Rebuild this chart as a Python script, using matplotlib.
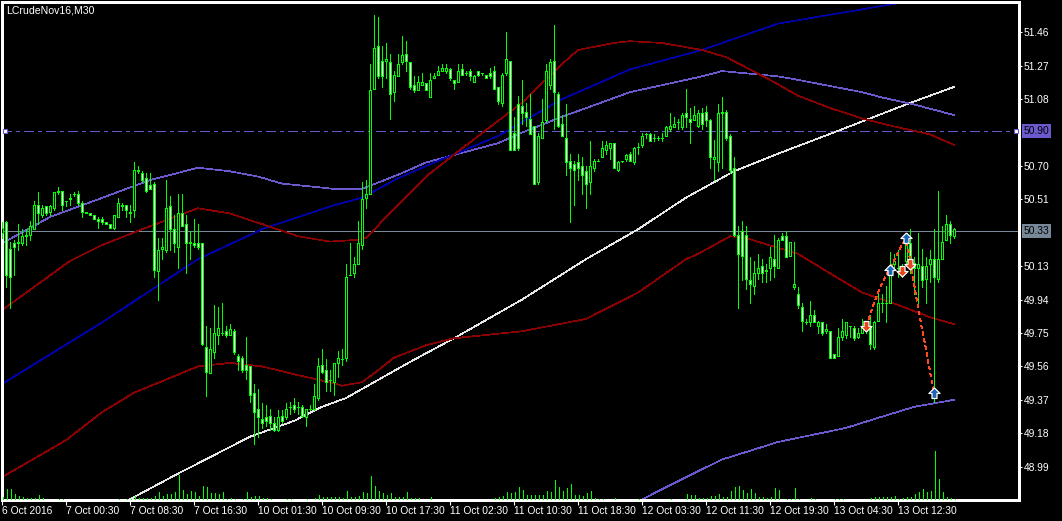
import numpy as np
import matplotlib
matplotlib.use("Agg")
import matplotlib.pyplot as plt
import matplotlib.transforms as mtransforms

# ---- LCrudeNov16, M30 : bars (one entry per 30 min bar) ----
opens = [
    50.32, 50.38, 50.23, 50.26, 50.26, 50.26, 50.31, 50.31, 50.34, 50.48,
    50.42, 50.47, 50.44, 50.46, 50.56, 50.56, 50.50, 50.52, 50.54, 50.54,
    50.49, 50.44, 50.43, 50.42, 50.40, 50.40, 50.38, 50.37, 50.35, 50.41,
    50.48, 50.48, 50.44, 50.45, 50.68, 50.66, 50.63, 50.59, 50.60, 50.10,
    50.23, 50.22, 50.47, 50.34, 50.24, 50.43, 50.37, 50.27, 50.26, 50.26,
    50.26, 49.67, 49.52, 49.64, 49.74, 49.75, 49.76, 49.74, 49.76, 49.62,
    49.61, 49.57, 49.56, 49.41, 49.32, 49.26, 49.27, 49.28, 49.24, 49.20,
    49.28, 49.27, 49.33, 49.34, 49.33, 49.33, 49.27, 49.32, 49.32, 49.38,
    49.57, 49.54, 49.48, 49.47, 49.58, 49.60, 49.61, 50.08, 50.09, 50.14,
    50.25, 50.52, 50.54, 51.14, 51.38, 51.30, 51.30, 51.29, 51.12, 51.21,
    51.29, 51.34, 51.29, 51.16, 51.13, 51.16, 51.17, 51.09, 51.20, 51.22,
    51.24, 51.24, 51.25, 51.19, 51.18, 51.25, 51.23, 51.24, 51.18, 51.24,
    51.23, 51.22, 51.23, 51.24, 51.15, 51.06, 51.23, 51.30, 50.89, 51.05,
    51.04, 51.01, 50.97, 50.93, 50.61, 50.86, 50.96, 51.16, 51.30, 51.11,
    50.94, 50.86, 50.73, 50.71, 50.72, 50.70, 50.67, 50.61, 50.69, 50.73,
    50.75, 50.79, 50.80, 50.83, 50.68, 50.73, 50.74, 50.77, 50.72, 50.81,
    50.82, 50.88, 50.88, 50.86, 50.86, 50.86, 50.87, 50.91, 50.92, 50.95,
    50.92, 51.00, 50.97, 50.96, 50.93, 51.00, 51.01, 50.96, 50.74, 50.72,
    51.01, 51.01, 50.87, 50.69, 50.31, 50.33, 50.31, 50.05, 50.02, 50.09,
    50.13, 50.10, 50.12, 50.17, 50.12, 50.30, 50.30, 50.19, 50.01, 49.97,
    49.90, 49.81, 49.81, 49.85, 49.79, 49.81, 49.76, 49.76, 49.63, 49.62,
    49.73, 49.74, 49.79, 49.78, 49.73, 49.75, 49.77, 49.79, 49.67, 49.82,
    49.92, 49.92, 49.92, 50.14, 50.12, 50.12, 50.16, 50.26, 50.15, 50.12,
    50.13, 50.06, 50.14, 50.17, 50.06, 50.17, 50.28, 50.37, 50.30,
]
highs = [
    50.38, 50.39, 50.27, 50.28, 50.37, 50.34, 50.34, 50.39, 50.50, 50.55,
    50.48, 50.47, 50.48, 50.55, 50.58, 50.56, 50.50, 50.54, 50.55, 50.56,
    50.50, 50.44, 50.43, 50.42, 50.41, 50.41, 50.38, 50.37, 50.42, 50.52,
    50.49, 50.48, 50.48, 50.72, 50.70, 50.67, 50.66, 50.66, 50.61, 50.29,
    50.29, 50.62, 50.53, 50.42, 50.54, 50.54, 50.42, 50.33, 50.40, 50.37,
    50.26, 49.79, 49.78, 49.91, 49.90, 49.92, 49.79, 49.80, 49.77, 49.63,
    49.62, 49.73, 49.56, 49.46, 49.43, 49.35, 49.34, 49.32, 49.27, 49.31,
    49.31, 49.35, 49.36, 49.38, 49.36, 49.34, 49.32, 49.34, 49.46, 49.61,
    49.66, 49.60, 49.54, 49.58, 49.65, 49.66, 50.14, 50.26, 50.18, 50.39,
    50.61, 50.62, 51.28, 51.56, 51.55, 51.38, 51.40, 51.34, 51.24, 51.34,
    51.44, 51.41, 51.29, 51.21, 51.21, 51.23, 51.17, 51.23, 51.23, 51.27,
    51.28, 51.28, 51.26, 51.19, 51.28, 51.28, 51.24, 51.25, 51.22, 51.24,
    51.23, 51.22, 51.26, 51.27, 51.15, 51.23, 51.46, 51.30, 50.98, 51.10,
    51.19, 51.06, 51.11, 50.93, 50.89, 51.08, 51.28, 51.31, 51.50, 51.12,
    50.99, 51.05, 50.77, 50.73, 50.77, 50.75, 50.70, 50.84, 50.74, 50.74,
    50.84, 50.84, 50.83, 50.83, 50.73, 50.73, 50.77, 50.78, 50.81, 50.83,
    50.89, 50.89, 50.89, 50.88, 50.87, 50.89, 50.93, 51.00, 50.98, 50.97,
    51.00, 51.14, 51.03, 51.04, 51.02, 51.03, 51.04, 50.97, 50.85, 51.05,
    51.09, 51.02, 50.88, 50.75, 50.36, 50.39, 50.36, 50.18, 50.16, 50.20,
    50.17, 50.14, 50.24, 50.31, 50.29, 50.32, 50.33, 50.27, 50.27, 50.01,
    49.92, 49.83, 49.93, 49.88, 49.82, 49.81, 49.80, 49.76, 49.63, 49.78,
    49.83, 49.81, 49.79, 49.79, 49.78, 49.83, 49.82, 49.85, 49.82, 49.97,
    49.97, 50.02, 50.21, 50.20, 50.22, 50.14, 50.29, 50.34, 50.18, 50.32,
    50.23, 50.18, 50.22, 50.34, 50.56, 50.36, 50.42, 50.39, 50.35,
]
lows = [
    50.29, 50.01, 49.89, 50.08, 50.22, 50.25, 50.25, 50.28, 50.34, 50.37,
    50.41, 50.42, 50.42, 50.45, 50.54, 50.45, 50.47, 50.48, 50.53, 50.48,
    50.41, 50.43, 50.42, 50.40, 50.35, 50.37, 50.37, 50.35, 50.34, 50.41,
    50.45, 50.41, 50.38, 50.41, 50.66, 50.61, 50.55, 50.57, 50.07, 49.94,
    50.17, 50.21, 50.22, 50.21, 50.12, 50.36, 50.09, 50.17, 50.24, 50.23,
    49.68, 49.39, 49.52, 49.61, 49.69, 49.74, 49.73, 49.74, 49.63, 49.54,
    49.53, 49.49, 49.36, 49.12, 49.16, 49.21, 49.22, 49.20, 49.19, 49.19,
    49.24, 49.26, 49.29, 49.30, 49.29, 49.27, 49.22, 49.31, 49.31, 49.37,
    49.52, 49.42, 49.42, 49.40, 49.50, 49.57, 49.59, 50.08, 50.07, 50.14,
    50.23, 50.46, 50.54, 51.14, 51.20, 51.15, 51.20, 50.97, 51.07, 51.21,
    51.28, 51.24, 51.14, 51.12, 51.13, 51.16, 51.13, 51.09, 51.20, 51.22,
    51.24, 51.23, 51.19, 51.14, 51.18, 51.22, 51.22, 51.19, 51.18, 51.21,
    51.22, 51.20, 51.20, 51.14, 51.05, 51.04, 51.22, 50.79, 50.79, 50.79,
    50.94, 50.93, 50.88, 50.60, 50.60, 50.86, 50.95, 51.14, 50.91, 50.92,
    50.87, 50.65, 50.38, 50.48, 50.62, 50.54, 50.46, 50.54, 50.67, 50.73,
    50.75, 50.77, 50.74, 50.69, 50.67, 50.72, 50.73, 50.73, 50.71, 50.77,
    50.81, 50.86, 50.84, 50.84, 50.85, 50.84, 50.87, 50.90, 50.92, 50.91,
    50.91, 50.92, 50.83, 50.96, 50.92, 50.91, 50.93, 50.69, 50.62, 50.67,
    50.69, 50.85, 50.66, 50.30, 49.89, 50.05, 50.00, 49.92, 49.97, 50.06,
    50.04, 50.04, 50.05, 50.07, 50.12, 50.28, 50.18, 50.19, 50.00, 49.89,
    49.76, 49.80, 49.79, 49.81, 49.75, 49.74, 49.75, 49.61, 49.61, 49.62,
    49.71, 49.72, 49.73, 49.71, 49.72, 49.75, 49.75, 49.66, 49.66, 49.82,
    49.87, 49.81, 49.92, 50.11, 50.07, 50.07, 50.14, 50.09, 49.97, 49.92,
    50.01, 49.92, 50.04, 49.36, 50.04, 50.17, 50.28, 50.26, 50.29,
]
closes = [
    50.35, 50.08, 50.07, 50.24, 50.27, 50.30, 50.30, 50.36, 50.48, 50.43,
    50.46, 50.43, 50.47, 50.55, 50.55, 50.48, 50.50, 50.51, 50.54, 50.49,
    50.44, 50.43, 50.42, 50.40, 50.39, 50.38, 50.37, 50.35, 50.42, 50.49,
    50.47, 50.45, 50.43, 50.68, 50.67, 50.62, 50.56, 50.57, 50.11, 50.22,
    50.24, 50.46, 50.34, 50.26, 50.43, 50.36, 50.26, 50.26, 50.25, 50.24,
    49.69, 49.53, 49.66, 49.75, 49.78, 49.75, 49.74, 49.77, 49.64, 49.59,
    49.54, 49.54, 49.40, 49.30, 49.27, 49.24, 49.25, 49.24, 49.20, 49.27,
    49.25, 49.32, 49.33, 49.32, 49.33, 49.28, 49.32, 49.32, 49.39, 49.56,
    49.53, 49.47, 49.48, 49.58, 49.61, 49.60, 50.07, 50.08, 50.14, 50.26,
    50.51, 50.54, 51.13, 51.37, 51.21, 51.21, 51.31, 51.11, 51.22, 51.28,
    51.33, 51.30, 51.15, 51.13, 51.18, 51.18, 51.13, 51.19, 51.21, 51.24,
    51.26, 51.26, 51.20, 51.17, 51.24, 51.22, 51.23, 51.21, 51.21, 51.22,
    51.23, 51.20, 51.21, 51.14, 51.07, 51.22, 51.31, 50.79, 50.79, 50.80,
    51.00, 50.98, 50.88, 50.60, 50.87, 50.95, 51.24, 51.29, 51.12, 50.93,
    50.87, 50.72, 50.69, 50.68, 50.69, 50.65, 50.60, 50.70, 50.73, 50.73,
    50.80, 50.82, 50.83, 50.69, 50.72, 50.73, 50.76, 50.73, 50.80, 50.81,
    50.87, 50.88, 50.84, 50.86, 50.86, 50.86, 50.92, 50.93, 50.94, 50.95,
    50.99, 50.98, 50.95, 50.99, 51.00, 50.94, 50.96, 50.75, 50.75, 51.00,
    51.00, 50.86, 50.68, 50.31, 50.20, 50.19, 50.06, 50.03, 50.09, 50.12,
    50.09, 50.11, 50.18, 50.13, 50.28, 50.28, 50.18, 50.27, 50.03, 49.91,
    49.82, 49.81, 49.85, 49.81, 49.81, 49.75, 49.77, 49.61, 49.61, 49.73,
    49.76, 49.81, 49.79, 49.72, 49.75, 49.79, 49.80, 49.69, 49.81, 49.92,
    49.92, 49.92, 50.10, 50.16, 50.12, 50.12, 50.26, 50.15, 50.12, 50.14,
    50.05, 50.13, 50.17, 50.07, 50.17, 50.27, 50.37, 50.31, 50.34,
]
# tick volume (drawn in its own scale at the bottom of the window)
volumes = [
    3, 11, 11, 6, 4, 3, 2, 2, 2, 5,
    2, 0, 0, 0, 1, 1, 0, 0, 0, 0,
    0, 0, 0, 0, 0, 0, 0, 0, 0, 1,
    0, 1, 1, 4, 2, 2, 2, 2, 4, 8,
    4, 6, 6, 8, 25, 10, 6, 9, 8, 4,
    14, 13, 7, 7, 6, 8, 1, 2, 1, 0,
    1, 8, 3, 4, 4, 2, 2, 1, 0, 0,
    0, 1, 1, 0, 0, 0, 1, 0, 2, 5,
    3, 3, 3, 3, 3, 2, 9, 3, 3, 4,
    8, 7, 24, 14, 9, 7, 5, 7, 3, 3,
    3, 8, 2, 2, 2, 0, 0, 3, 0, 0,
    0, 0, 0, 0, 0, 0, 0, 0, 0, 0,
    0, 0, 0, 2, 3, 4, 8, 7, 8, 13,
    10, 5, 5, 5, 5, 5, 9, 8, 20, 13,
    9, 12, 16, 5, 5, 4, 7, 9, 2, 1,
    1, 0, 0, 2, 0, 0, 0, 0, 0, 1,
    0, 0, 0, 0, 0, 0, 0, 1, 0, 0,
    0, 6, 5, 5, 2, 2, 2, 4, 4, 6,
    3, 3, 9, 13, 14, 10, 7, 11, 7, 3,
    3, 2, 3, 12, 10, 0, 1, 1, 12, 1,
    0, 0, 2, 1, 0, 0, 0, 0, 1, 1,
    1, 0, 0, 0, 0, 0, 0, 2, 3, 3,
    3, 3, 3, 4, 1, 2, 3, 3, 6, 8,
    11, 8, 9, 49, 21, 8, 3, 2, 1,
]

# ---- indicator lines (bar index, price) ----
white_idx = [30, 44, 56, 62, 73, 80, 86, 93, 100, 104, 113, 130, 146, 159, 171, 183, 194, 209, 226, 238]
white_val = [48.78, 48.95, 49.09, 49.16, 49.25, 49.33, 49.38, 49.47, 49.56, 49.61, 49.72, 49.94,
             50.17, 50.34, 50.52, 50.67, 50.77, 50.90, 51.05, 51.15]

slate_up_idx = [0, 12, 24, 37, 49, 57, 64, 70, 83, 90, 99, 106, 124, 130, 140, 157, 175, 180,
                194, 199, 215, 220, 228, 238]
slate_up_val = [50.26, 50.41, 50.51, 50.62, 50.69, 50.67, 50.64, 50.60, 50.57, 50.57, 50.65, 50.72,
                50.83, 50.89, 50.98, 51.12, 51.21, 51.24, 51.21, 51.19, 51.12, 51.09, 51.05, 50.99]
slate_lo_idx = [158, 171, 180, 194, 211, 218, 228, 238]
slate_lo_val = [48.78, 48.93, 49.03, 49.13, 49.21, 49.26, 49.33, 49.37]

navy_idx = [0, 25, 49, 65, 82, 90, 99, 106, 124, 130, 140, 157, 175, 194, 225, 240]
navy_val = [49.46, 49.81, 50.17, 50.34, 50.47, 50.52, 50.63, 50.70, 50.87, 50.95, 51.08, 51.25,
            51.36, 51.51, 51.63, 51.68]

red_up_idx = [0, 17, 25, 35, 49, 57, 65, 74, 82, 89, 91, 99, 106, 115, 130, 140, 144, 153, 157,
              165, 175, 181, 192, 199, 207, 215, 224, 232, 238]
red_up_val = [49.88, 50.16, 50.25, 50.34, 50.46, 50.43, 50.37, 50.30, 50.27, 50.28, 50.29, 50.48,
              50.64, 50.80, 51.06, 51.28, 51.36, 51.40, 51.41, 51.40, 51.36, 51.32, 51.19, 51.10,
              51.03, 50.97, 50.92, 50.88, 50.82]
red_lo_idx = [0, 16, 25, 33, 49, 57, 65, 74, 82, 85, 90, 93, 98, 106, 113, 130, 146, 159, 171,
              174, 182, 186, 199, 207, 215, 224, 232, 238]
red_lo_val = [48.93, 49.14, 49.30, 49.41, 49.56, 49.58, 49.56, 49.51, 49.47, 49.45, 49.47, 49.52,
              49.61, 49.68, 49.72, 49.76, 49.83, 49.98, 50.17, 50.20, 50.30, 50.29, 50.20, 50.09,
              49.98, 49.91, 49.84, 49.80]

dotted_idx = [216, 217, 218, 219, 220, 221, 222, 223, 224, 225, 226, 227, 228, 229, 230, 231, 232, 233]
dotted_val = [49.79, 49.85, 49.92, 49.98, 50.03, 50.08, 50.12, 50.16, 50.21, 50.25, 50.28, 50.17,
              50.03, 49.90, 49.77, 49.66, 49.53, 49.41]

buy_idx = [222, 226, 233]
buy_val = [50.11, 50.29, 49.41]
sell_idx = [216, 225, 227]
sell_val = [49.79, 50.10, 50.14]

level_line = 50.90
bid_line = 50.33

price_ticks = [51.46, 51.27, 51.08, 50.70, 50.51, 50.13, 49.94, 49.75, 49.56, 49.37, 49.18, 48.99]
time_tick_idx = list(range(0, 225, 16))
time_tick_labels = ["6 Oct 2016", "7 Oct 00:30", "7 Oct 08:30", "7 Oct 16:30", "10 Oct 01:30",
                    "10 Oct 09:30", "10 Oct 17:30", "11 Oct 02:30", "11 Oct 10:30", "11 Oct 18:30",
                    "12 Oct 03:30", "12 Oct 11:30", "12 Oct 19:30", "13 Oct 04:30", "13 Oct 12:30"]

# ---- style ----
plt.rcParams.update({
    "font.family": ["Liberation Sans", "DejaVu Sans"],
    "font.size": 7.4,
    "lines.antialiased": False,
    "patch.antialiased": False,
    "lines.scale_dashes": False,
})
GREEN = "#00ff00"
SLATE = "#6a5acd"
NAVY = "#0000a8"
MAROON = "#8b0000"
GRAY = "#778899"
LW = 0.7   # vertical / horizontal 1 px strokes
MA_LW = 0.5  # thin sloped indicator lines

fig = plt.figure(figsize=(10.62, 5.21), dpi=100, facecolor="black")
ax = fig.add_axes([2 / 1062, 21 / 521, 1017 / 1062, 498 / 521])
ax.set_facecolor("black")

x = np.arange(len(closes))
o = np.array(opens)
h = np.array(highs)
l = np.array(lows)
c = np.array(closes)

# volumes on a hidden twin axis
vax = ax.twinx()
vax.set_ylim(0, 498)
vax.vlines(x + 0.15, 0, volumes, color=GREEN, lw=LW)
vax.axis("off")

# horizontal levels
ax.axhline(bid_line, color=GRAY, lw=MA_LW, zorder=1)
ax.axhline(level_line, color=SLATE, lw=LW, linestyle=(0, (6.5, 3.0, 2.2, 3.0)), zorder=1)

# indicator lines
ax.plot(white_idx, white_val, color="#e6e6e6", lw=MA_LW, zorder=2)
ax.plot(slate_up_idx, slate_up_val, color=SLATE, lw=MA_LW, zorder=2)
ax.plot(slate_lo_idx, slate_lo_val, color=SLATE, lw=MA_LW, zorder=2)
ax.plot(navy_idx, navy_val, color=NAVY, lw=MA_LW, zorder=2)
ax.plot(red_up_idx, red_up_val, color=MAROON, lw=MA_LW, zorder=2)
ax.plot(red_lo_idx, red_lo_val, color=MAROON, lw=MA_LW, zorder=2)

# candles: green wicks, black body = up bar, white body = down bar
ax.vlines(x, l, h, color=GREEN, lw=LW, zorder=3)
fills = np.where(c > o, "black", "white")
ax.bar(x, np.abs(c - o), bottom=np.minimum(o, c), width=0.55, color=fills,
       edgecolor=GREEN, linewidth=0.6, zorder=4)

# dotted path + trade arrows
ax.plot(dotted_idx, dotted_val, color="#ff4a1c", lw=LW, linestyle=(0, (2.2, 2.2)), zorder=5)
up_arrow = [(0, 1), (1, 0), (0.45, 0), (0.45, -0.9), (-0.45, -0.9), (-0.45, 0), (-1, 0), (0, 1)]
down_arrow = [(px, -py) for px, py in up_arrow]
ax.plot(buy_idx, buy_val, linestyle="none", marker=up_arrow, ms=8, mfc="#1c64b8",
        mec="white", mew=0.9, zorder=6)
ax.plot(sell_idx, sell_val, linestyle="none", marker=down_arrow, ms=8, mfc="#e8441c",
        mec="white", mew=0.9, zorder=6)

# axes limits / frame
ax.set_xlim(0, 254.25)
ax.set_ylim(48.80, 51.633)
for s in ax.spines.values():
    s.set_color("white")
    s.set_linewidth(0.8)

ax.yaxis.tick_right()
ax.set_yticks(price_ticks)
ax.set_yticklabels([f"{v:.2f}" for v in price_ticks])
ax.tick_params(axis="y", direction="out", length=2.5, width=0.8, color="white",
               labelcolor="white", pad=1.0, labelsize=7.4)
ax.set_xticks(time_tick_idx)
ax.set_xticklabels(time_tick_labels, ha="left")
ax.tick_params(axis="x", direction="out", length=3.6, width=0.8, color="white",
               labelcolor="white", pad=0.5, labelsize=7.4)

# price labels for the two horizontal lines
trans = mtransforms.blended_transform_factory(ax.transAxes, ax.transData)
ax.text(1.0045, level_line, f"{level_line:.2f}", transform=trans, ha="left", va="center",
        fontsize=7.4, color="black", bbox=dict(boxstyle="square,pad=0.18", fc=SLATE, ec="none"),
        zorder=10, clip_on=False)
ax.text(1.0045, bid_line, f"{bid_line:.2f}", transform=trans, ha="left", va="center",
        fontsize=7.4, color="black", bbox=dict(boxstyle="square,pad=0.18", fc=GRAY, ec="none"),
        zorder=10, clip_on=False)
ax.plot([0.003, 0.997], [level_line, level_line], linestyle="none", marker="s", ms=3.2,
        mfc="white", mec=SLATE, mew=0.8, transform=trans, clip_on=False, zorder=7)

ax.text(0.004, 0.992, "LCrudeNov16,M30", transform=ax.transAxes, ha="left", va="top",
        color="white", fontsize=7.6)

fig.savefig("out.png", dpi=100, facecolor="black")
